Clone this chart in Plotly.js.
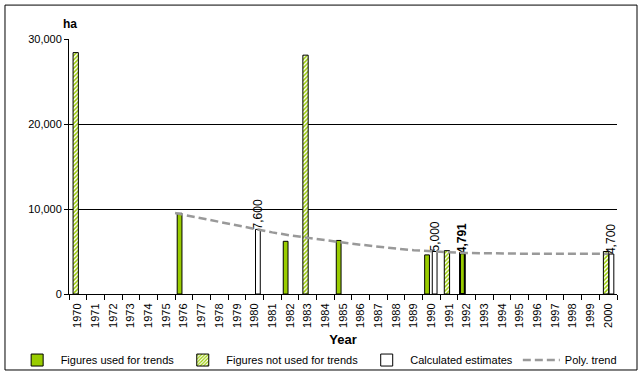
<!DOCTYPE html>
<html>
<head>
<meta charset="utf-8">
<script src="https://cdn.plot.ly/plotly-3.0.1.min.js"></script>
<style>
  html, body { margin: 0; padding: 0; background: #ffffff; }
  #chart { width: 641px; height: 375px; }
</style>
</head>
<body>
<div id="chart"></div>
<script>
// ---- data ----
const yearLabels = ['1970','1971','1972','1973','1974','1975','1976','1977','1978','1979',
                    '1980','1981','1982','1983','1984','1985','1986','1987','1988','1989',
                    '1990','1991','1992','1993','1994','1995','1996','1997','1998','1999','2000'];

const usedYears   = [1976, 1982, 1985, 1990, 1992];
const usedValues  = [9500, 6200, 6300, 4600, 4791];
const usedLabels  = ['', '', '', '', '<b>4,791</b>'];

const notUsedYears  = [1970, 1983, 1991, 2000];
const notUsedValues = [28400, 28100, 5100, 5000];

const estYears   = [1980, 1990, 2000];
const estValues  = [7600, 5000, 4700];
const estLabels  = ['7,600', '5,000', '4,700'];

const trendYears  = [1975.5, 1977, 1978, 1979, 1980, 1981, 1982, 1983, 1984, 1985, 1986, 1987,
                     1988, 1989, 1990, 1991, 1992, 1993, 1994, 1995, 1996, 1997, 1998, 1999, 2000];
const trendValues = [9520, 8900, 8450, 8000, 7600, 7250, 6900, 6600, 6300, 6050, 5800, 5550,
                     5350, 5150, 5000, 4900, 4820, 4780, 4760, 4750, 4750, 4750, 4750, 4750, 4750];

const FONT = 'Liberation Sans, Arial, sans-serif';
const GREEN = '#99CC00';

const traces = [
  {
    type: 'bar', name: 'Figures used for trends',
    x: usedYears, y: usedValues,
    offset: -0.38, width: 0.27,
    marker: { color: GREEN, line: { color: '#000000', width: [1, 1, 1, 1, 2] } },
    text: usedLabels, textposition: 'outside', textangle: -90, constraintext: 'none',
    textfont: { family: FONT, size: 12, color: '#000000' }, cliponaxis: false,
    hoverinfo: 'x+y'
  },
  {
    type: 'bar', name: 'Figures not used for trends',
    x: notUsedYears, y: notUsedValues,
    offset: -0.27, width: 0.30,
    marker: { color: '#ffffff',
              pattern: { shape: '/', fgcolor: GREEN, bgcolor: '#ffffff', size: 3, solidity: 0.5 },
              line: { color: '#000000', width: 1 } },
    hoverinfo: 'x+y'
  },
  {
    type: 'bar', name: 'Calculated estimates',
    x: estYears, y: estValues,
    offset: 0.05, width: 0.27,
    marker: { color: '#ffffff', line: { color: '#000000', width: 1 } },
    text: estLabels, textposition: 'outside', textangle: -90, constraintext: 'none',
    textfont: { family: FONT, size: 12, color: '#000000' }, cliponaxis: false,
    hoverinfo: 'x+y'
  },
  {
    type: 'scatter', mode: 'lines', name: 'Poly. trend',
    x: trendYears, y: trendValues,
    line: { color: '#999999', width: 2.5, dash: '8px,4px' },
    hoverinfo: 'x+y'
  }
];

const layout = {
  width: 641, height: 375,
  margin: { l: 69, r: 24, t: 39, b: 81, autoexpand: false },
  paper_bgcolor: '#ffffff', plot_bgcolor: '#ffffff',
  font: { family: FONT, size: 11, color: '#000000' },
  barmode: 'overlay',
  showlegend: true,
  legend: {
    orientation: 'h', x: -0.101, xanchor: 'left', y: -0.259, yanchor: 'middle',
    font: { family: FONT, size: 11, color: '#000000' },
    itemwidth: 37, traceorder: 'normal', bgcolor: 'rgba(0,0,0,0)'
  },
  xaxis: {
    type: 'linear', range: [1969.5, 2000.5], fixedrange: true,
    tickmode: 'array', tickvals: yearLabels.map(Number), ticktext: yearLabels,
    tickangle: -90, ticks: '', ticklabelstandoff: 4,
    tickfont: { family: FONT, size: 11, color: '#000000' },
    minor: { ticks: 'outside', ticklen: 5, tickcolor: '#000000', tickwidth: 1,
             tick0: 1969.5, dtick: 1, showgrid: false },
    showline: true, linecolor: '#000000', linewidth: 1,
    showgrid: false, zeroline: false,
    title: { text: '<b>Year</b>', font: { family: FONT, size: 13, color: '#000000' }, standoff: 8 }
  },
  yaxis: {
    range: [0, 30000], fixedrange: true,
    tickmode: 'array', tickvals: [0, 10000, 20000, 30000], tickformat: ',d',
    ticks: 'outside', ticklen: 4, tickcolor: '#000000',
    tickfont: { family: FONT, size: 11, color: '#000000' },
    showline: true, linecolor: '#000000', linewidth: 1,
    showgrid: true, gridcolor: '#000000', gridwidth: 1, zeroline: false
  },
  annotations: [
    { text: '<b>ha</b>', xref: 'paper', yref: 'paper', x: 0.002, y: 1.059,
      xanchor: 'center', yanchor: 'middle', showarrow: false,
      font: { family: FONT, size: 12, color: '#000000' } }
  ],
  shapes: [
    { type: 'rect', xref: 'paper', yref: 'paper',
      x0: -0.1168, x1: 1.0365, y0: -0.298, y1: 1.133,
      line: { color: '#000000', width: 1 }, fillcolor: 'rgba(0,0,0,0)', layer: 'below' }
  ]
};

Plotly.newPlot('chart', traces, layout, { displayModeBar: false, staticPlot: true });
</script>
</body>
</html>
